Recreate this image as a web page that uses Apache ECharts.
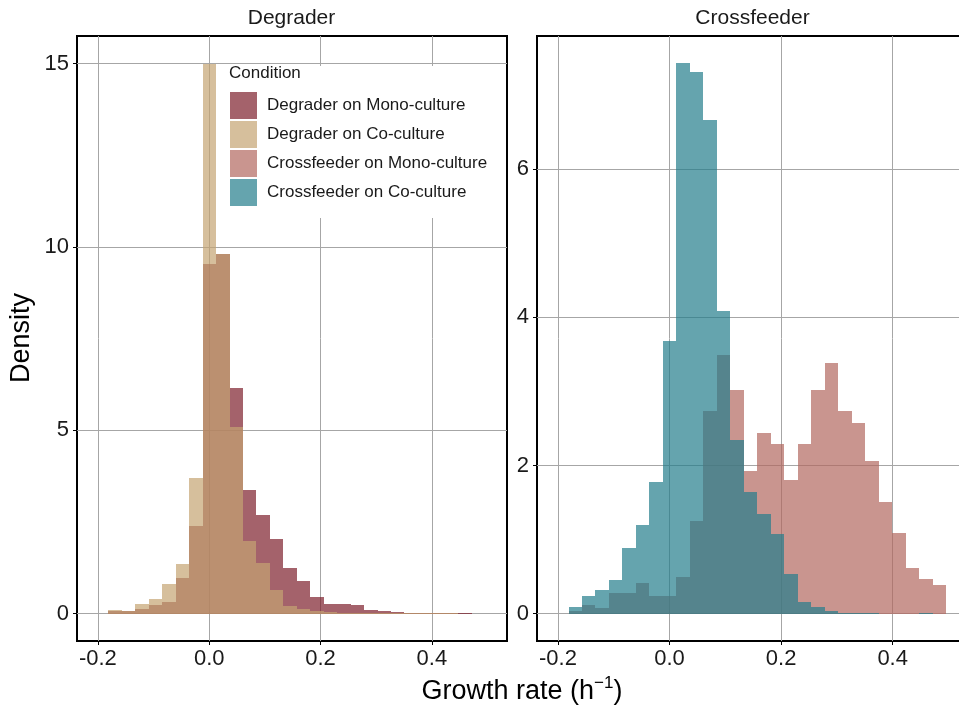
<!DOCTYPE html>
<html>
<head>
<meta charset="utf-8">
<script src="https://cdn.jsdelivr.net/npm/echarts@6/dist/echarts.min.js"></script>
<style>
  html, body { margin: 0; padding: 0; background: #fff; overflow: hidden; }
  /* the right panel runs past the picture's right edge, as in the original */
  #main { width: 985px; height: 707px; }
</style>
</head>
<body>
<div id="main"></div>
<script>
// bin edges of the histograms (growth rate, h^-1), 28 bins
var binEdges = [-0.181, -0.1568, -0.1327, -0.1085, -0.0843, -0.0602, -0.0360, -0.0118,
  0.0124, 0.0365, 0.0607, 0.0849, 0.1090, 0.1332, 0.1574, 0.1816, 0.2057, 0.2299,
  0.2541, 0.2782, 0.3024, 0.3266, 0.3507, 0.3749, 0.3991, 0.4233, 0.4474, 0.4716, 0.4958];

// densities per bin
var degraderMono = [0.08, 0.06, 0.11, 0.22, 0.31, 0.96, 2.38, 9.52, 9.81, 6.16, 3.36, 2.69, 2.02, 1.23,
  0.88, 0.44, 0.27, 0.27, 0.24, 0.10, 0.07, 0.03, 0.015, 0.01, 0.005, 0.01, 0.01, 0.0];
var degraderCo = [0.10, 0.08, 0.26, 0.40, 0.80, 1.35, 3.70, 15.0, 9.80, 5.10, 1.98, 1.37, 0.64, 0.21,
  0.13, 0.07, 0.03, 0.02, 0.02, 0.01, 0.01, 0.01, 0.01, 0.02, 0.02, 0.01, 0.0, 0.0];
var crossMono = [0.04, 0.11, 0.07, 0.28, 0.28, 0.41, 0.24, 0.24, 0.49, 1.25, 2.74, 3.49, 3.02, 1.93,
  2.44, 2.29, 1.80, 2.29, 3.02, 3.39, 2.74, 2.58, 2.06, 1.51, 1.09, 0.62, 0.47, 0.39];
var crossCo = [0.09, 0.24, 0.32, 0.46, 0.88, 1.19, 1.78, 3.68, 7.43, 7.31, 6.66, 4.09, 2.34, 1.64,
  1.35, 1.07, 0.53, 0.15, 0.09, 0.03, 0.01, 0.005, 0.003, 0, 0, 0, 0.01, 0];

var panelNames = ['Degrader', 'Crossfeeder'];
var seriesNames = ['Degrader on Mono-culture', 'Degrader on Co-culture',
  'Crossfeeder on Mono-culture', 'Crossfeeder on Co-culture'];

var FONT = '"Liberation Sans", Arial, Helvetica, sans-serif';
var colors = ['rgba(126,32,44,0.7)', 'rgba(196,164,114,0.7)', 'rgba(178,104,95,0.7)', 'rgba(36,126,139,0.7)'];

// [left edge, right edge, density] for each bin
function toBins(values) {
  var out = [];
  for (var i = 0; i < values.length; i++) {
    out.push([binEdges[i], binEdges[i + 1], values[i]]);
  }
  return out;
}

// snap to whole pixels so neighbouring bins touch without seams
function renderBin(params, api) {
  var p0 = api.coord([api.value(0), api.value(2)]);
  var p1 = api.coord([api.value(1), 0]);
  var x0 = Math.round(p0[0]), x1 = Math.round(p1[0]);
  var y0 = Math.round(p0[1]), y1 = Math.round(p1[1]);
  return {
    type: 'rect',
    shape: { x: x0, y: y0, width: x1 - x0, height: y1 - y0 },
    style: { fill: api.visual('color') }
  };
}

function histSeries(idx, axisIdx, values) {
  return {
    name: seriesNames[idx],
    type: 'custom',
    xAxisIndex: axisIdx,
    yAxisIndex: axisIdx,
    renderItem: renderBin,
    encode: { x: [0, 1], y: 2 },
    itemStyle: { color: colors[idx] },
    data: toBins(values)
  };
}

function xAxisFor(gridIdx) {
  return {
    type: 'value', gridIndex: gridIdx, min: -0.2375, max: 0.535, splitNumber: 4,
    axisLine: { show: false, onZero: false },
    axisTick: { show: true, length: 4, lineStyle: { color: '#000' } },
    axisLabel: {
      fontSize: 22, fontFamily: FONT, color: '#1a1a1a', margin: 7,
      showMinLabel: false, showMaxLabel: false,
      formatter: function (v) { return v.toFixed(1); }
    },
    splitLine: { show: true, showMinLine: false, showMaxLine: false, lineStyle: { color: '#a6a6a6', width: 1 } }
  };
}

function yAxisFor(gridIdx, min, max, split) {
  return {
    type: 'value', gridIndex: gridIdx, min: min, max: max, splitNumber: split,
    axisLine: { show: false, onZero: false },
    axisTick: { show: true, length: 4, lineStyle: { color: '#000' } },
    axisLabel: {
      fontSize: 22, fontFamily: FONT, color: '#1a1a1a', margin: 8,
      showMinLabel: false, showMaxLabel: false
    },
    splitLine: { show: true, showMinLine: false, showMaxLine: false, lineStyle: { color: '#a6a6a6', width: 1 } }
  };
}

var chart = echarts.init(document.getElementById('main'), null, { renderer: 'canvas' });

var option = {
  backgroundColor: '#fff',
  animation: false,
  grid: [
    { left: 77, top: 36, width: 430, height: 605, show: true, borderColor: '#000', borderWidth: 2, backgroundColor: 'transparent' },
    { left: 537, top: 36, width: 431, height: 605, show: true, borderColor: '#000', borderWidth: 2, backgroundColor: 'transparent' }
  ],
  xAxis: [xAxisFor(0), xAxisFor(1)],
  yAxis: [yAxisFor(0, -0.75, 15.75, 3), yAxisFor(1, -0.37, 7.80, 4)],
  legend: {
    data: seriesNames,
    orient: 'vertical',
    left: 219,
    top: 66,
    padding: [26, 14, 12, 11],
    backgroundColor: '#fff',
    icon: 'rect',
    itemWidth: 27,
    itemHeight: 27,
    itemGap: 2,
    selectedMode: false,
    textStyle: { fontSize: 17, fontFamily: FONT, color: '#1a1a1a', padding: [0, 0, 0, 5] }
  },
  graphic: [
    { type: 'text', left: 229, top: 65, z: 100, style: { text: 'Condition', font: '17px ' + FONT, fill: '#1a1a1a' } },
    { type: 'text', x: 291.5, y: 18, style: { text: panelNames[0], font: '21px ' + FONT, fill: '#1a1a1a', textAlign: 'center', textVerticalAlign: 'middle' } },
    { type: 'text', x: 752.5, y: 18, style: { text: panelNames[1], font: '21px ' + FONT, fill: '#1a1a1a', textAlign: 'center', textVerticalAlign: 'middle' } },
    {
      type: 'text', x: 22, y: 338, rotation: Math.PI / 2,
      style: { text: 'Density', font: '27px ' + FONT, fill: '#000', textAlign: 'center', textVerticalAlign: 'middle' }
    },
    {
      type: 'text', x: 522, y: 690,
      style: {
        text: '{a|Growth rate (h}{s|\u22121}{a|)}',
        textAlign: 'center', textVerticalAlign: 'middle',
        rich: {
          a: { fontSize: 27, fontFamily: FONT, fill: '#000', lineHeight: 30, verticalAlign: 'bottom' },
          s: { fontSize: 17, fontFamily: FONT, fill: '#000', lineHeight: 30, verticalAlign: 'top' }
        }
      }
    }
  ],
  series: [
    histSeries(0, 0, degraderMono),
    histSeries(1, 0, degraderCo),
    histSeries(2, 1, crossMono),
    histSeries(3, 1, crossCo)
  ]
};

chart.setOption(option);
</script>
</body>
</html>
